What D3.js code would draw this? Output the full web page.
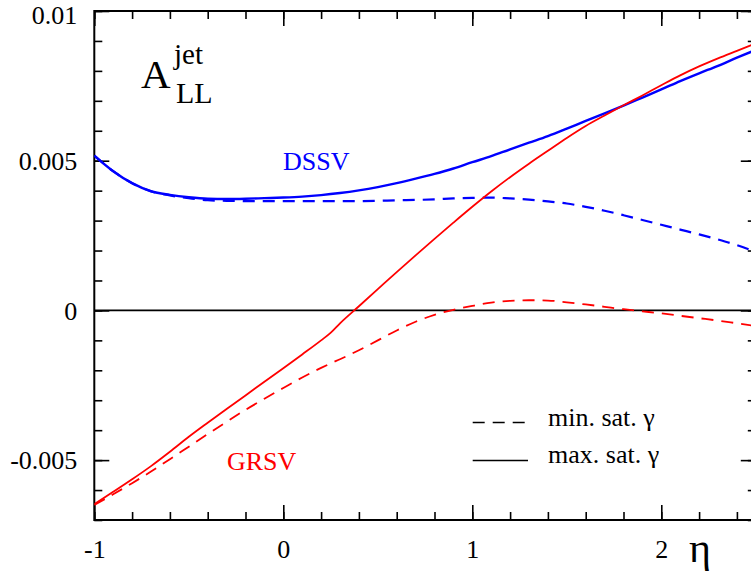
<!DOCTYPE html>
<html>
<head>
<meta charset="utf-8">
<script src="https://cdn.jsdelivr.net/npm/d3@7"></script>
<style>
  html, body { margin: 0; padding: 0; background: #fff; }
  svg { display: block; }
</style>
</head>
<body>
<svg id="chart" width="751" height="573" font-family="Liberation Serif, Times New Roman, serif"></svg>
<script>
// ---- data (asymmetry values) ----
const etaGrid = [-1, -0.9, -0.8, -0.7, -0.6, -0.5, -0.4, -0.3, -0.2, -0.1, 0, 0.1, 0.2, 0.3, 0.4, 0.5, 0.6, 0.7, 0.8, 0.9, 1.0, 1.1, 1.2, 1.3, 1.4, 1.5, 1.6, 1.7, 1.8, 1.9, 2.0, 2.1, 2.2, 2.3, 2.4, 2.5];

const dssvMax = [5.17, 4.65, 4.25, 3.98, 3.86, 3.78, 3.73, 3.72, 3.73, 3.75, 3.77, 3.80, 3.85, 3.92, 4.01, 4.12, 4.25, 4.40, 4.56, 4.74, 4.95, 5.15, 5.38, 5.60, 5.82, 6.07, 6.33, 6.58, 6.84, 7.11, 7.38, 7.66, 7.92, 8.17, 8.44, 8.70].map(v => v / 1000);
const dssvMin = [5.17, 4.65, 4.25, 3.98, 3.84, 3.75, 3.68, 3.66, 3.65, 3.65, 3.65, 3.65, 3.65, 3.65, 3.65, 3.66, 3.68, 3.69, 3.71, 3.74, 3.76, 3.77, 3.74, 3.70, 3.64, 3.57, 3.46, 3.33, 3.18, 3.02, 2.86, 2.70, 2.54, 2.37, 2.18, 1.95].map(v => v / 1000);

const grsvEta = [-1, -0.9, -0.8, -0.7, -0.6, -0.5, -0.4, -0.3, -0.2, -0.1, 0, 0.1, 0.2, 0.25, 0.3, 0.4, 0.5, 0.6, 0.7, 0.8, 0.9, 1.0, 1.1, 1.2, 1.3, 1.4, 1.5, 1.6, 1.7, 1.8, 1.9, 2.0, 2.1, 2.2, 2.3, 2.4, 2.5];
const grsvMax = [-6.47, -6.06, -5.64, -5.20, -4.72, -4.22, -3.75, -3.29, -2.84, -2.38, -1.93, -1.47, -1.00, -0.75, -0.43, 0.14, 0.71, 1.28, 1.84, 2.39, 2.93, 3.46, 3.97, 4.45, 4.90, 5.33, 5.76, 6.16, 6.51, 6.85, 7.18, 7.52, 7.85, 8.15, 8.42, 8.67, 8.92].map(v => v / 1000);
const grsvMin = [-6.50, -6.14, -5.77, -5.38, -4.97, -4.55, -4.13, -3.72, -3.32, -2.95, -2.59, -2.24, -1.92, -1.77, -1.63, -1.33, -1.00, -0.67, -0.38, -0.15, 0.02, 0.15, 0.26, 0.32, 0.34, 0.33, 0.27, 0.20, 0.12, 0.04, -0.03, -0.10, -0.18, -0.26, -0.34, -0.43, -0.52].map(v => v / 1000);

const xMajorTicks = [-1, 0, 1, 2];
const xTickLabels = ["-1", "0", "1", "2"];
const yMajorTicks = [-0.005, 0, 0.005, 0.01];
const yTickLabels = ["-0.005", "0", "0.005", "0.01"];
const xMinorTicks = [-1, -0.8, -0.6, -0.4, -0.2, 0, 0.2, 0.4, 0.6, 0.8, 1, 1.2, 1.4, 1.6, 1.8, 2, 2.2, 2.4];
const yMinorTicks = [-0.007, -0.006, -0.005, -0.004, -0.003, -0.002, -0.001, 0, 0.001, 0.002, 0.003, 0.004, 0.005, 0.006, 0.007, 0.008, 0.009, 0.01];

const legendLabels = ["min. sat. \u03B3", "max. sat. \u03B3"];

// ---- layout ----
const FONT = "Liberation Serif, Times New Roman, serif";
const L = 94.3, R = 755.8, T = 11, B = 520;
const svg = d3.select("#chart");
const x = d3.scaleLinear().domain([-1, 2.5]).range([L, R]);
const y = d3.scaleLinear().domain([-0.007, 0.01]).range([B, T]);

svg.append("defs").append("clipPath").attr("id", "clip")
  .append("rect").attr("x", L).attr("y", T).attr("width", R - L).attr("height", B - T);

function styleAxis(g) {
  g.attr("font-family", FONT).attr("font-size", 26);
  g.select(".domain").remove();
  g.selectAll(".tick line").attr("stroke", "#000").attr("stroke-width", 1.6);
  g.selectAll("text").attr("font-size", 26).attr("fill", "#000").attr("font-family", FONT);
}

// minor ticks
svg.append("g").attr("transform", `translate(${L},0)`)
  .call(d3.axisLeft(y).tickValues(yMinorTicks).tickSize(-8).tickFormat("")).call(styleAxis);
svg.append("g").attr("transform", `translate(${R},0)`)
  .call(d3.axisRight(y).tickValues(yMinorTicks).tickSize(-8).tickFormat("")).call(styleAxis);
svg.append("g").attr("transform", `translate(0,${B})`)
  .call(d3.axisBottom(x).tickValues(xMinorTicks).tickSize(-8).tickFormat("")).call(styleAxis);
svg.append("g").attr("transform", `translate(0,${T})`)
  .call(d3.axisTop(x).tickValues(xMinorTicks).tickSize(-8).tickFormat("")).call(styleAxis);

// major ticks + labels
const yAxisG = svg.append("g").attr("transform", `translate(${L},0)`)
  .call(d3.axisLeft(y).tickValues(yMajorTicks).tickSize(-15).tickPadding(17)
    .tickFormat((d, i) => yTickLabels[i])).call(styleAxis);
yAxisG.selectAll("text").attr("dy", d => d === 0.01 ? "0.47em" : "0.33em");
svg.append("g").attr("transform", `translate(${R},0)`)
  .call(d3.axisRight(y).tickValues(yMajorTicks).tickSize(-15).tickFormat("")).call(styleAxis);
svg.append("g").attr("transform", `translate(0,${B})`)
  .call(d3.axisBottom(x).tickValues(xMajorTicks).tickSize(-15).tickPadding(20)
    .tickFormat((d, i) => xTickLabels[i])).call(styleAxis);
svg.append("g").attr("transform", `translate(0,${T})`)
  .call(d3.axisTop(x).tickValues(xMajorTicks).tickSize(-15).tickFormat("")).call(styleAxis);

// frame
svg.append("rect").attr("x", L).attr("y", T).attr("width", R - L).attr("height", B - T)
  .attr("fill", "none").attr("stroke", "#000").attr("stroke-width", 2);

// zero line
svg.append("line").attr("x1", L).attr("x2", R).attr("y1", y(0)).attr("y2", y(0))
  .attr("stroke", "#000").attr("stroke-width", 1.6);

// curves
const lineGen = d3.line().x(d => x(d[0])).y(d => y(d[1])).curve(d3.curveMonotoneX);
const plot = svg.append("g").attr("clip-path", "url(#clip)");
const series = [
  { eta: etaGrid, vals: dssvMin, color: "#0000ff", dash: "12,8", w: 2.2 },
  { eta: etaGrid, vals: dssvMax, color: "#0000ff", dash: null, w: 2.4 },
  { eta: grsvEta, vals: grsvMin, color: "#ff0000", dash: "12,8", w: 1.8 },
  { eta: grsvEta, vals: grsvMax, color: "#ff0000", dash: null, w: 1.8 }
];
series.forEach(s => {
  plot.append("path")
    .attr("d", lineGen(s.eta.map((e, i) => [e, s.vals[i]])))
    .attr("fill", "none").attr("stroke", s.color).attr("stroke-width", s.w)
    .attr("stroke-dasharray", s.dash);
});

function txt(xp, yp, size, color, s, anchor) {
  return svg.append("text").attr("x", xp).attr("y", yp).attr("font-size", size)
    .attr("font-family", FONT).attr("fill", color)
    .attr("text-anchor", anchor || "start").text(s);
}

// curve labels
txt(283, 170, 26, "#0000ff", "DSSV");
txt(227, 470, 26, "#ff0000", "GRSV");

// A_LL^jet
txt(141, 88, 41, "#000", "A");
txt(174, 64, 29, "#000", "jet");
txt(176, 103, 30, "#000", "LL");

// legend
const legY = [422.5, 460.5];
const legBase = [426, 463];
[0, 1].forEach(i => {
  svg.append("line").attr("x1", 472.7).attr("x2", i === 0 ? 525 : 528)
    .attr("y1", legY[i]).attr("y2", legY[i])
    .attr("stroke", "#000").attr("stroke-width", 1.6)
    .attr("stroke-dasharray", i === 0 ? "12,8" : null);
  txt(548, legBase[i], 26, "#000", legendLabels[i]);
});

// eta axis title
txt(700, 562, 42, "#000", "\u03B7", "middle");
</script>
</body>
</html>
